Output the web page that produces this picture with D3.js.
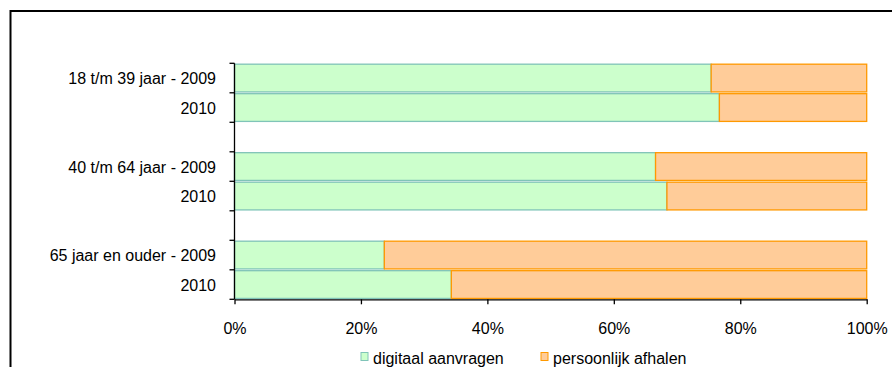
<!DOCTYPE html>
<html><head><meta charset="utf-8">
<script src="https://cdn.jsdelivr.net/npm/d3@7"></script>
<style>body{margin:0;background:#fff;} svg{display:block;font-family:"Liberation Sans",Arial,sans-serif;}</style>
</head><body>
<script>
const categories = ["18 t/m 39 jaar - 2009","2010","gap1","40 t/m 64 jaar - 2009","2010 ","gap2","65 jaar en ouder - 2009","2010  "];
const labels = ["18 t/m 39 jaar - 2009","2010","","40 t/m 64 jaar - 2009","2010","","65 jaar en ouder - 2009","2010"];
const digitaal = [75.4, 76.7, null, 66.6, 68.4, null, 23.7, 34.3];
const persoonlijk = [24.6, 23.3, null, 33.4, 31.6, null, 76.3, 65.7];
const xTicks = [0,20,40,60,80,100];
const seriesNames = ["digitaal aanvragen","persoonlijk afhalen"];
const fills = ["#CCFFCC","#FFCC99"];
const strokes = ["#80C4B8","#FF9900"];

const W=892,H=367;
const svg=d3.select("body").append("svg").attr("width",W).attr("height",H);
svg.append("rect").attr("x",10.5).attr("y",11).attr("width",W+20).attr("height",H+20)
  .attr("fill","none").attr("stroke","#000").attr("stroke-width",2);

const x=d3.scaleLinear().domain([0,100]).range([234.5,866.7]);
const y=d3.scaleBand().domain(categories).range([63.3,299.3]).paddingInner(0.06).paddingOuter(0.03);

const rows=categories.map((c,i)=>({c,i,d:digitaal[i],p:persoonlijk[i]})).filter(r=>r.d!==null);
const g=svg.append("g");
rows.forEach(r=>{
  const tot=r.d+r.p;
  const segs=[[0,r.d/tot*100],[r.d/tot*100,100]];
  segs.forEach((s,k)=>{
    g.append("rect").attr("x",x(s[0])).attr("y",y(r.c)).attr("width",x(s[1])-x(s[0]))
      .attr("height",y.bandwidth()).attr("fill",fills[k]).attr("stroke",strokes[k]).attr("stroke-width",1.3);
  });
});

// y axis
const step=(299.3-63.3)/categories.length;
svg.append("line").attr("x1",234.5).attr("x2",234.5).attr("y1",63.3).attr("y2",299.3).attr("stroke","#000").attr("stroke-width",1.3);
d3.range(categories.length+1).forEach(i=>{
  const yy=63.3+i*step;
  svg.append("line").attr("x1",229.5).attr("x2",234.5).attr("y1",yy).attr("y2",yy).attr("stroke","#000").attr("stroke-width",1.3);
});
categories.forEach((c,i)=>{
  if(!labels[i])return;
  svg.append("text").attr("x",216).attr("y",63.3+i*step+step/2+6).attr("text-anchor","end")
    .attr("font-size",16).attr("fill","#000").text(labels[i]);
});

// x axis
const xa=svg.append("g").attr("transform","translate(0,299.3)")
  .call(d3.axisBottom(x).tickValues(xTicks).tickFormat(d=>d+"%").tickSize(5).tickSizeOuter(0).tickPadding(18));
xa.select(".domain").attr("stroke","#000").attr("stroke-width",1.3);
xa.selectAll(".tick line").attr("stroke","#000").attr("stroke-width",1.3);
xa.selectAll("text").attr("font-size",16).attr("font-family","Liberation Sans, Arial, sans-serif").attr("fill","#000");

// legend
const lx=[361,541];
seriesNames.forEach((n,k)=>{
  svg.append("rect").attr("x",lx[k]).attr("y",352.5).attr("width",7).attr("height",8)
    .attr("fill",fills[k]).attr("stroke",strokes[k]).attr("stroke-width",1);
  svg.append("text").attr("x",lx[k]+12).attr("y",363.5).attr("font-size",16).attr("fill","#000").text(n);
});
</script>
</body></html>
